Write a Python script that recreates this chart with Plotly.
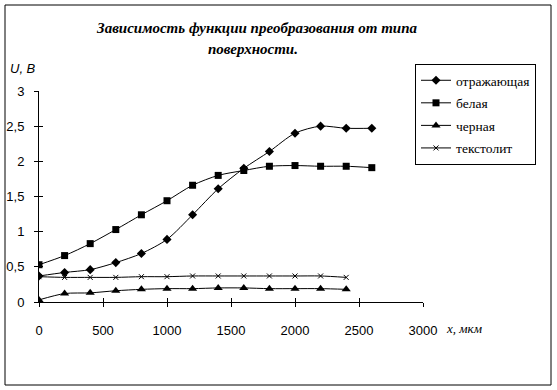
import plotly.graph_objects as go

# ---- data ----
x_um = [0, 200, 400, 600, 800, 1000, 1200, 1400, 1600, 1800, 2000, 2200, 2400, 2600]
x_short = [0, 200, 400, 600, 800, 1000, 1200, 1400, 1600, 1800, 2000, 2200, 2400]
u_reflect = [0.37, 0.42, 0.46, 0.56, 0.69, 0.89, 1.24, 1.61, 1.90, 2.14, 2.40, 2.50, 2.47, 2.47]
u_white = [0.53, 0.66, 0.83, 1.03, 1.24, 1.44, 1.66, 1.80, 1.87, 1.93, 1.94, 1.93, 1.93, 1.91]
u_black = [0.03, 0.12, 0.13, 0.16, 0.18, 0.19, 0.19, 0.20, 0.20, 0.19, 0.19, 0.19, 0.18]
u_textolite = [0.36, 0.35, 0.35, 0.35, 0.36, 0.36, 0.37, 0.37, 0.37, 0.37, 0.37, 0.37, 0.35]

series_names = ["отражающая", "белая", "черная", "текстолит"]
x_tick_vals = [0, 500, 1000, 1500, 2000, 2500, 3000]
x_tick_text = ["0", "500", "1000", "1500", "2000", "2500", "3000"]
y_tick_vals = [0, 0.5, 1, 1.5, 2, 2.5, 3]
y_tick_text = ["0", "0,5", "1", "1,5", "2", "2,5", "3"]

title_lines = ["Зависимость функции преобразования от типа", "поверхности."]
y_title = "U, B"
x_title = "x, мкм"

# ---- layout geometry (pixels) ----
W, H = 557, 390
L, R, T, B = 39, 423, 91, 302
def px(xp):
    return (xp - L) / (R - L)
def py(yp):
    return (B - yp) / (B - T)

SANS = "Liberation Sans"
SERIF = "Liberation Serif, serif"

fig = go.Figure()
line = dict(color="black", width=1, shape="spline", smoothing=0.8)
markers = [
    dict(symbol="diamond", size=7, color="black"),
    dict(symbol="square", size=7, color="black"),
    dict(symbol="triangle-up", size=8, color="black"),
    dict(symbol="x-thin", size=5, color="black", line=dict(color="black", width=1)),
]
xs = [x_um, x_um, x_short, x_short]
ys = [u_reflect, u_white, u_black, u_textolite]
for i in range(4):
    fig.add_trace(go.Scatter(x=xs[i], y=ys[i], name=series_names[i], mode="lines+markers",
                             line=line, marker=markers[i], legendgroup=str(i)))

# overlay axes for inner half of cross tick marks
fig.add_trace(go.Scatter(x=x_um, y=u_white, xaxis="x2", yaxis="y2", mode="lines",
                         line=dict(width=0), opacity=0, showlegend=False, hoverinfo="skip"))

axis_font = dict(family=SANS, size=13, color="black")
fig.update_layout(
    template="none",
    width=W, height=H,
    margin=dict(l=L, r=W - R, t=T, b=H - B, autoexpand=False),
    paper_bgcolor="white", plot_bgcolor="white",
    showlegend=True,
    xaxis=dict(range=[0, 3000], tickvals=x_tick_vals, ticktext=x_tick_text, automargin=False,
               showgrid=False, zeroline=False, showline=True, linecolor="black", linewidth=1,
               ticks="outside", ticklen=4, tickcolor="black", tickwidth=1,
               tickfont=axis_font, ticklabelstandoff=12),
    yaxis=dict(range=[0, 3], tickvals=y_tick_vals, ticktext=y_tick_text, automargin=False,
               showgrid=False, zeroline=False, showline=True, linecolor="black", linewidth=1,
               ticks="outside", ticklen=4, tickcolor="black", tickwidth=1,
               tickfont=axis_font, ticklabelstandoff=7),
    xaxis2=dict(range=[0, 3000], tickvals=x_tick_vals, overlaying="x", anchor="y2", automargin=False,
                showticklabels=False, showgrid=False, zeroline=False, showline=False,
                ticks="inside", ticklen=4, tickcolor="black", tickwidth=1),
    yaxis2=dict(range=[0, 3], tickvals=y_tick_vals, overlaying="y", anchor="x2", automargin=False,
                showticklabels=False, showgrid=False, zeroline=False, showline=False,
                ticks="inside", ticklen=4, tickcolor="black", tickwidth=1),
    legend=dict(x=px(415), y=py(64), xanchor="left", yanchor="top",
                bgcolor="white", bordercolor="black", borderwidth=1,
                font=dict(family=SERIF, size=13.5, color="black"),
                tracegroupgap=2, itemwidth=30),
)

fig.add_shape(type="rect", xref="paper", yref="paper",
              x0=px(5), x1=px(551), y0=py(385), y1=py(5),
              line=dict(color="black", width=1), layer="above")

title_font = dict(family=SERIF, size=15, color="black")
fig.add_annotation(x=px(257), y=py(28), xref="paper", yref="paper", showarrow=False,
                   text="<b><i>" + title_lines[0] + "</i></b>", font=title_font,
                   xanchor="center", yanchor="middle")
fig.add_annotation(x=px(253), y=py(49), xref="paper", yref="paper", showarrow=False,
                   text="<b><i>" + title_lines[1] + "</i></b>", font=title_font,
                   xanchor="center", yanchor="middle")
fig.add_annotation(x=px(8), y=py(68), xref="paper", yref="paper", showarrow=False,
                   text="<i>" + y_title + "</i>", font=dict(family=SANS, size=13, color="black"),
                   xanchor="left", yanchor="middle")
fig.add_annotation(x=px(444), y=py(328), xref="paper", yref="paper", showarrow=False,
                   text="<i>" + x_title + "</i>", font=dict(family=SERIF, size=13, color="black"),
                   xanchor="left", yanchor="middle")

fig.write_html("out.html", config={"displayModeBar": False},
               post_script="document.body.style.margin='0';document.body.style.overflow='hidden';")
